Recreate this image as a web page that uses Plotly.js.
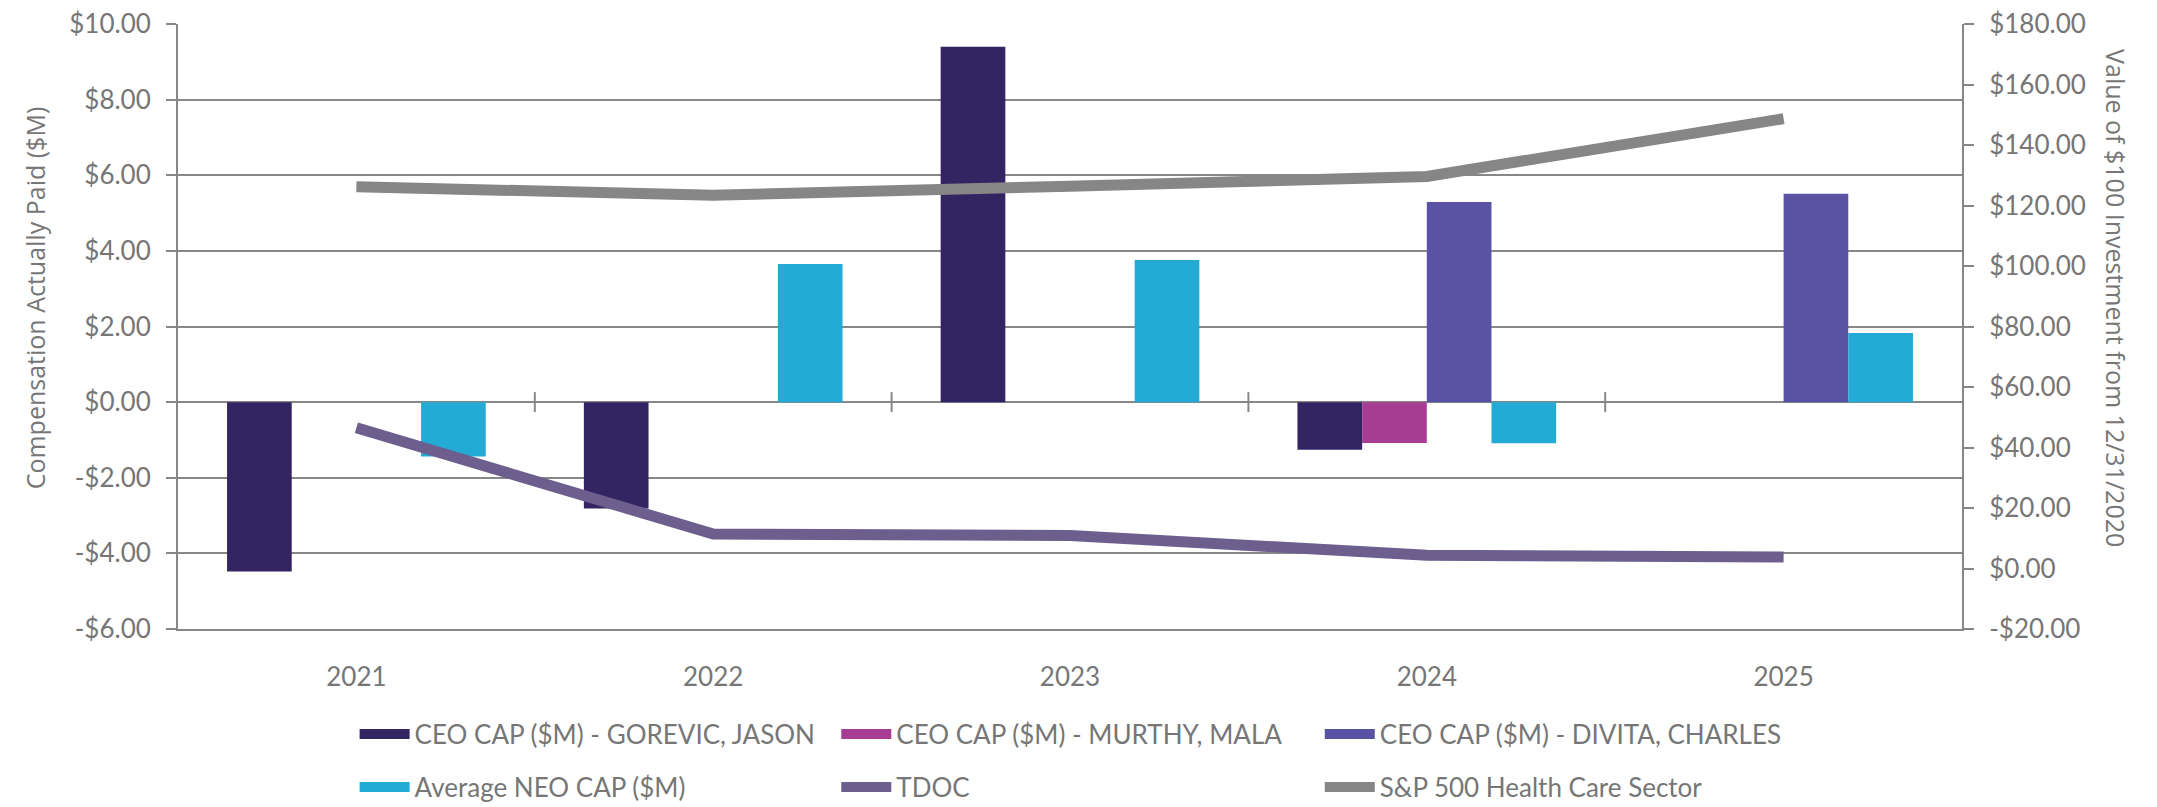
<!DOCTYPE html>
<html>
<head>
<meta charset="utf-8">
<script src="https://cdn.plot.ly/plotly-3.0.1.min.js"></script>
<style>
  html, body { margin: 0; padding: 0; background: #fff; }
  #chart { width: 2157px; height: 807px; }
</style>
</head>
<body>
<div id="chart"></div>
<script>
// Fiscal years shown on the category axis
const years = ['2021', '2022', '2023', '2024', '2025'];

// Compensation actually paid, $M (left axis)
const capGorevic = [-4.48, -2.81, 9.40, -1.26, null];
const capMurthy  = [null, null, null, -1.08, null];
const capDivita  = [null, null, null, 5.29, 5.51];
const capAvgNeo  = [-1.44, 3.65, 3.76, -1.09, 1.83];

// Value of a $100 investment made 12/31/2020 (right axis)
const tdocValue = [46.5, 11.4, 10.9, 4.4, 3.8];
const sp500HealthCare = [126.2, 123.4, 126.4, 129.6, 148.7];

// Axis tick values
const leftTicks  = [-6, -4, -2, 0, 2, 4, 6, 8, 10];
const rightTicks = [-20, 0, 20, 40, 60, 80, 100, 120, 140, 160, 180];

// Axis titles
const leftTitle  = 'Compensation Actually Paid ($M)';
const rightTitle = 'Value of $100 Investment from 12/31/2020';

const money = v => (v < 0 ? '-' : '') + '$' + Math.abs(v).toFixed(2);

const GRID = '#878787';
const TEXT = '#767676';
const FONT = 'Lato, "Liberation Sans", sans-serif';
const TITLE_FONT = { family: '"Open Sans", sans-serif', size: 25, color: TEXT };

const barSeries = [
  { name: 'CEO CAP ($M) - GOREVIC, JASON', y: capGorevic, color: '#332562', legend: 'legend'  },
  { name: 'CEO CAP ($M) - MURTHY, MALA',   y: capMurthy,  color: '#a73c93', legend: 'legend2' },
  { name: 'CEO CAP ($M) - DIVITA, CHARLES',y: capDivita,  color: '#5a53a3', legend: 'legend3' },
  { name: 'Average NEO CAP ($M)',          y: capAvgNeo,  color: '#23abd5', legend: 'legend'  }
];
const lineSeries = [
  { name: 'TDOC',                      y: tdocValue,       color: '#6c5e8d', legend: 'legend2' },
  { name: 'S&P 500 Health Care Sector', y: sp500HealthCare, color: '#858685', legend: 'legend3' }
];

const traces = [];
barSeries.forEach((s, i) => {
  traces.push({
    type: 'bar', x: years, y: s.y, name: s.name,
    marker: { color: s.color, line: { width: 0 } },
    yaxis: 'y', legendgroup: 'g' + i, showlegend: false,
    hoverinfo: 'x+y+name'
  });
  // legend entry drawn as a wide swatch
  traces.push({
    type: 'scatter', mode: 'lines', x: [null], y: [null], name: s.name,
    line: { color: s.color, width: 10 }, legend: s.legend,
    legendgroup: 'g' + i, showlegend: true, hoverinfo: 'skip'
  });
});
lineSeries.forEach((s, i) => {
  traces.push({
    type: 'scatter', mode: 'lines', x: years, y: s.y, name: s.name,
    line: { color: s.color, width: 11 }, yaxis: 'y2',
    legend: s.legend, legendgroup: 'l' + i
  });
});

// cross tick marks on the category axis at the zero line, between categories
const shapes = years.slice(1).map((_, i) => ({
  type: 'line', xref: 'x', yref: 'y',
  x0: i + 0.5, x1: i + 0.5,
  ysizemode: 'pixel', yanchor: 0, y0: -10, y1: 10,
  line: { color: GRID, width: 2 }, layer: 'above'
}));

// vertical axis titles (the right one reads top to bottom)
const annotations = [
  { text: leftTitle, xref: 'paper', yref: 'paper', x: -0.080, y: 0.547,
    xanchor: 'center', yanchor: 'middle', textangle: -90, showarrow: false, font: TITLE_FONT },
  { text: rightTitle, xref: 'paper', yref: 'paper', x: 1.0863, y: 0.547,
    xanchor: 'center', yanchor: 'middle', textangle: 90, showarrow: false, font: TITLE_FONT }
];

const legendBase = {
  orientation: 'v', xanchor: 'left', yanchor: 'top', y: -0.135,
  font: { family: FONT, size: 26, color: TEXT },
  bgcolor: 'rgba(0,0,0,0)', borderwidth: 0,
  itemwidth: 50, tracegroupgap: 16, traceorder: 'grouped',
  itemclick: 'toggle'
};

const layout = {
  width: 2157, height: 807,
  margin: { l: 178, r: 195, t: 24, b: 178, pad: 0, autoexpand: false },
  paper_bgcolor: '#ffffff', plot_bgcolor: '#ffffff',
  font: { family: FONT, size: 26, color: TEXT },
  barmode: 'group', bargap: 0.275, bargroupgap: 0,
  xaxis: {
    type: 'category', categoryorder: 'array', categoryarray: years,
    range: [-0.5, years.length - 0.5],
    showgrid: false, zeroline: false,
    showline: true, linecolor: GRID, linewidth: 2,
    ticks: '', ticklabelstandoff: 24,
    tickfont: { family: FONT, size: 26, color: TEXT }
  },
  yaxis: {
    range: [-6, 10], tickvals: leftTicks, ticktext: leftTicks.map(money),
    showgrid: true, gridcolor: GRID, gridwidth: 2,
    zeroline: true, zerolinecolor: GRID, zerolinewidth: 2,
    showline: true, linecolor: GRID, linewidth: 2,
    ticks: 'outside', ticklen: 10, tickwidth: 2, tickcolor: GRID,
    ticklabelstandoff: 10,
    tickfont: { family: FONT, size: 26, color: TEXT },
    automargin: false
  },
  yaxis2: {
    overlaying: 'y', side: 'right', anchor: 'x',
    range: [-20, 180], tickvals: rightTicks, ticktext: rightTicks.map(money),
    showgrid: false, zeroline: false,
    showline: true, linecolor: GRID, linewidth: 2,
    ticks: 'outside', ticklen: 10, tickwidth: 2, tickcolor: GRID,
    ticklabelstandoff: 10,
    tickfont: { family: FONT, size: 26, color: TEXT },
    automargin: false
  },
  yaxis3: {
    overlaying: 'y', side: 'right', anchor: 'x',
    range: [-20, 180], tickvals: rightTicks, showticklabels: false,
    showgrid: false, zeroline: false, showline: false,
    ticks: 'inside', ticklen: 10, tickwidth: 2, tickcolor: GRID
  },
  legend:  Object.assign({}, legendBase, { x: 0.099 }),
  legend2: Object.assign({}, legendBase, { x: 0.369 }),
  legend3: Object.assign({}, legendBase, { x: 0.640 }),
  shapes: shapes,
  annotations: annotations,
  showlegend: true
};

Plotly.newPlot('chart', traces, layout, { displayModeBar: false, staticPlot: false });
</script>
</body>
</html>
